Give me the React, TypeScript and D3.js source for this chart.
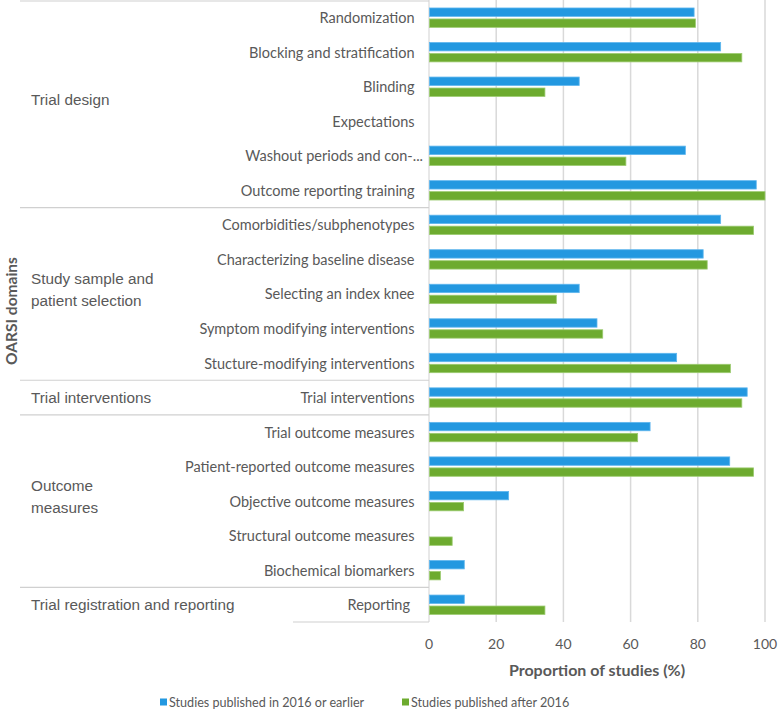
import React from "react";
import * as d3 from "d3";

const categories = [
  "Randomization",
  "Blocking and stratification",
  "Blinding",
  "Expectations",
  "Washout periods and con-...",
  "Outcome reporting training",
  "Comorbidities/subphenotypes",
  "Characterizing baseline disease",
  "Selecting an index knee",
  "Symptom modifying interventions",
  "Stucture-modifying interventions",
  "Trial interventions",
  "Trial outcome measures",
  "Patient-reported outcome measures",
  "Objective outcome measures",
  "Structural outcome measures",
  "Biochemical biomarkers",
  "Reporting",
];

const seriesNames = ["Studies published in 2016 or earlier", "Studies published after 2016"];

const earlierValues = [78.9, 86.8, 44.7, 0, 76.3, 97.4, 86.8, 81.6, 44.7, 50.0, 73.7, 94.7, 65.8, 89.5, 23.7, 0, 10.5, 10.5];
const afterValues = [79.3, 93.1, 34.5, 0, 58.6, 100, 96.6, 82.8, 37.9, 51.7, 89.7, 93.1, 62.1, 96.6, 10.3, 6.9, 3.4, 34.5];

const groupLabels = [
  ["Trial design"],
  ["Study sample and", "patient selection"],
  ["Trial interventions"],
  ["Outcome", "measures"],
  ["Trial registration and reporting"],
];
const groupSizes = [6, 5, 1, 5, 1];

const xTicks = [0, 20, 40, 60, 80, 100];

const W = 780;
const H = 711;
const BLUE = "#2398e0";
const GREEN = "#6dab2f";
const TEXT = "#595959";
const GRID = "#d9d9d9";

export default function App() {
  const x = d3.scaleLinear().domain([0, 100]).range([429, 765]);
  const y = d3.scaleBand<string>().domain(categories).range([0.4, 622]);
  const sub = d3
    .scaleBand<string>()
    .domain(seriesNames)
    .range([0, y.bandwidth()])
    .paddingInner(0.236)
    .paddingOuter(0.69);
  const values = [earlierValues, afterValues];
  const colors = [BLUE, GREEN];
  const strokes = ["#5fb6ee", "#9ccb70"];

  const starts: number[] = [];
  let acc = 0;
  groupSizes.forEach((s) => {
    starts.push(acc);
    acc += s;
  });
  const bandY = (i: number) => y.range()[0] + i * y.step();

  const catFont = "Lato, 'Open Sans', sans-serif";
  const groupFont = "'Liberation Sans', Arial, sans-serif";

  return (
    <svg
      width={W}
      height={H}
      style={{ position: "absolute", left: 0, top: 0, background: "#fff" }}
    >
      {xTicks.filter((t) => t > 0).map((t) => (
        <line key={t} x1={x(t)} x2={x(t)} y1={0} y2={622} stroke={GRID} strokeWidth={1.5} />
      ))}
      <line x1={x(0)} x2={x(0)} y1={0} y2={622} stroke={GRID} strokeWidth={1.2} />

      {starts.map((s, i) => (
        <line key={"sep" + i} x1={20} x2={x(0)} y1={bandY(s) + (i === 0 ? 0.6 : 0)} y2={bandY(s) + (i === 0 ? 0.6 : 0)} stroke="#d0d0d0" strokeWidth={1.2} />
      ))}
      <line x1={293} x2={x(0)} y1={bandY(categories.length)} y2={bandY(categories.length)} stroke="#d0d0d0" strokeWidth={1.2} />

      {categories.map((c, i) =>
        seriesNames.map((s, k) =>
          values[k][i] > 0 ? (
            <rect
              key={c + s}
              x={x(0) + 0.5}
              y={(y(c) as number) + (sub(s) as number)}
              width={x(values[k][i]) - x(0) - 0.5}
              height={sub.bandwidth()}
              fill={colors[k]}
              stroke={strokes[k]}
              strokeWidth={0.8}
            />
          ) : null
        )
      )}

      {categories.map((c) => (
        <text
          key={"l" + c}
          x={c === "Reporting" ? 410 : c.endsWith("...") ? 423 : 414.5}
          y={(y(c) as number) + y.bandwidth() / 2}
          textAnchor="end"
          dominantBaseline="central"
          fontFamily={catFont}
          fontSize={14.5}
          fill={TEXT}
        >
          {c}
        </text>
      ))}

      {groupLabels.map((lines, i) => {
        const top = bandY(starts[i]);
        const bottom = bandY(starts[i] + groupSizes[i]);
        const mid = (top + bottom) / 2 - (groupSizes[i] > 1 ? 4.5 : 0);
        const lh = 21.5;
        return (
          <text key={"g" + i} fontFamily={groupFont} fontSize={15.3} fill={TEXT}>
            {lines.map((ln, j) => (
              <tspan
                key={j}
                x={31}
                y={mid + (j - (lines.length - 1) / 2) * lh}
                dominantBaseline="central"
              >
                {ln}
              </tspan>
            ))}
          </text>
        );
      })}

      <text
        transform={`translate(11, 311) rotate(-90)`}
        textAnchor="middle"
        dominantBaseline="central"
        fontFamily={catFont}
        fontWeight="bold"
        fontSize={15.5}
        fill={TEXT}
      >
        OARSI domains
      </text>

      {xTicks.map((t) => (
        <text
          key={"t" + t}
          x={x(t)}
          y={643}
          textAnchor="middle"
          dominantBaseline="central"
          fontFamily={catFont}
          fontSize={14}
          fill={TEXT}
        >
          {t}
        </text>
      ))}

      <text
        x={597}
        y={669}
        textAnchor="middle"
        dominantBaseline="central"
        fontFamily={catFont}
        fontWeight="bold"
        fontSize={16}
        fill={TEXT}
      >
        Proportion of studies (%)
      </text>

      {seriesNames.map((s, k) => {
        const lx = k === 0 ? 160 : 402;
        return (
          <g key={"lg" + s}>
            <rect x={lx} y={698.5} width={7} height={7} fill={colors[k]} />
            <text
              x={lx + 9}
              y={702}
              dominantBaseline="central"
              fontFamily={catFont}
              fontSize={12.6}
              fill={TEXT}
            >
              {s}
            </text>
          </g>
        );
      })}
    </svg>
  );
}
